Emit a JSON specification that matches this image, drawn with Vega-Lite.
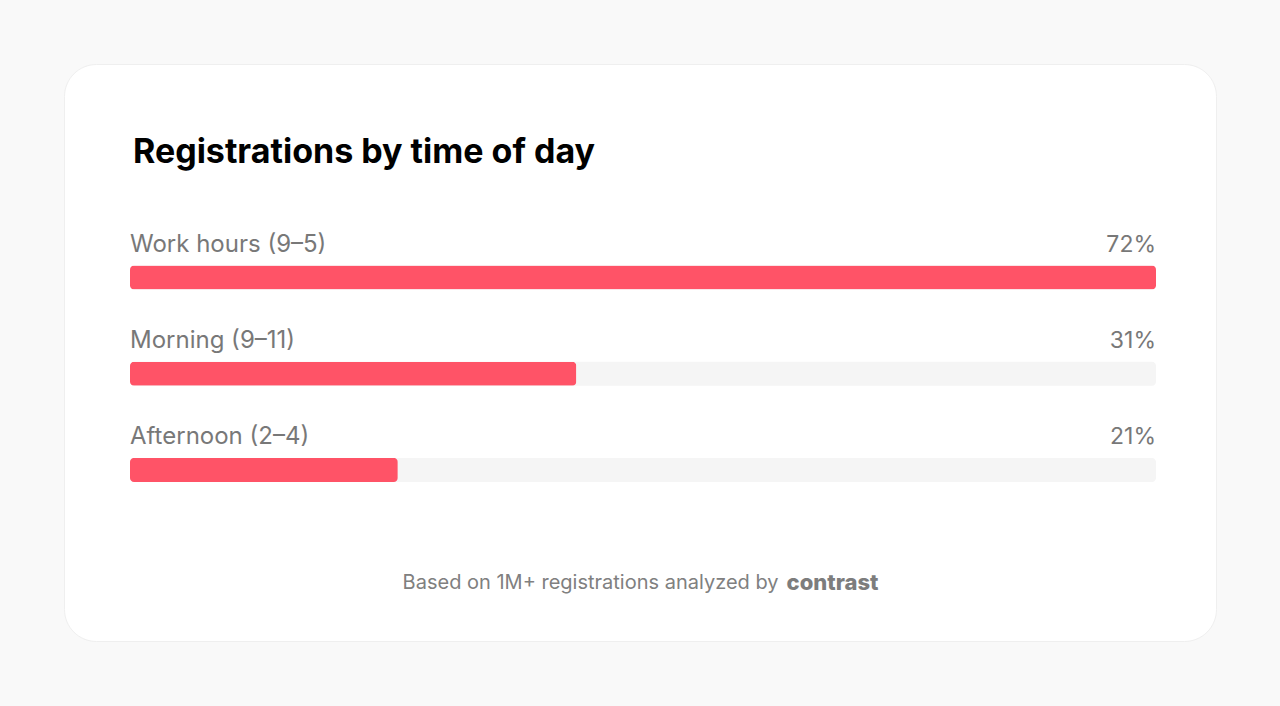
{
  "$schema": "https://vega.github.io/schema/vega-lite/v6.json",
  "width": 1152,
  "height": 577,
  "autosize": "none",
  "padding": {"left": 64, "top": 64, "right": 64, "bottom": 65},
  "background": "#f9f9f9",
  "config": {
    "view": {"fill": "#ffffff", "stroke": "#efefef", "cornerRadius": 32},
    "text": {"font": "Inter"}
  },
  "title": {
    "text": "Registrations by time of day",
    "anchor": "start",
    "frame": "group",
    "orient": "top",
    "offset": 0,
    "dx": 69,
    "dy": 133,
    "baseline": "alphabetic",
    "font": "Inter",
    "fontSize": 34,
    "fontWeight": 700,
    "color": "#000000"
  },
  "datasets": {
    "rows": [
      {"row": "Work hours (9–5)", "share": "72%", "fill": 1.0},
      {"row": "Morning (9–11)", "share": "31%", "fill": 0.435},
      {"row": "Afternoon (2–4)", "share": "21%", "fill": 0.261}
    ],
    "note": [
      {"row": "note", "text": "Based on 1M+ registrations analyzed by", "brand": "contrast"}
    ]
  },
  "layer": [
    {
      "data": {"name": "rows"},
      "mark": {"type": "bar", "height": 24, "yOffset": 16, "cornerRadius": 4, "color": "#f5f5f5"},
      "encoding": {
        "x": {"datum": 0, "type": "quantitative", "scale": {"domain": [0, 1], "range": [66, 1092]}, "axis": null},
        "x2": {"datum": 1},
        "y": {
          "field": "row",
          "type": "nominal",
          "scale": {
            "domain": ["Work hours (9–5)", "Morning (9–11)", "Afternoon (2–4)", "note"],
            "paddingInner": 0,
            "paddingOuter": 1.0052,
            "align": 0.7772
          },
          "axis": null
        }
      }
    },
    {
      "data": {"name": "rows"},
      "mark": {"type": "bar", "height": 24, "yOffset": 16, "cornerRadius": 4, "color": "#ff5367"},
      "encoding": {
        "x": {"field": "fill", "type": "quantitative"},
        "y": {"field": "row", "type": "nominal"}
      }
    },
    {
      "data": {"name": "rows"},
      "mark": {"type": "text", "align": "left", "baseline": "alphabetic", "yOffset": -10, "fontSize": 24, "color": "#787878"},
      "encoding": {
        "x": {"datum": 0, "type": "quantitative"},
        "y": {"field": "row", "type": "nominal"},
        "text": {"field": "row"}
      }
    },
    {
      "data": {"name": "rows"},
      "mark": {"type": "text", "align": "right", "baseline": "alphabetic", "yOffset": -10, "fontSize": 23, "color": "#787878"},
      "encoding": {
        "x": {"datum": 1, "type": "quantitative"},
        "y": {"field": "row", "type": "nominal"},
        "text": {"field": "share"}
      }
    },
    {
      "data": {"name": "note"},
      "mark": {"type": "text", "align": "right", "baseline": "middle", "dx": -4, "yOffset": 33, "fontSize": 20, "color": "#808080"},
      "encoding": {
        "x": {"datum": 0.636, "type": "quantitative"},
        "y": {"field": "row", "type": "nominal"},
        "text": {"field": "text"}
      }
    },
    {
      "data": {"name": "note"},
      "mark": {"type": "text", "align": "left", "baseline": "middle", "dx": 4, "yOffset": 33, "fontSize": 22, "fontWeight": 800, "color": "#7d7d7d"},
      "encoding": {
        "x": {"datum": 0.636, "type": "quantitative"},
        "y": {"field": "row", "type": "nominal"},
        "text": {"field": "brand"}
      }
    }
  ]
}
